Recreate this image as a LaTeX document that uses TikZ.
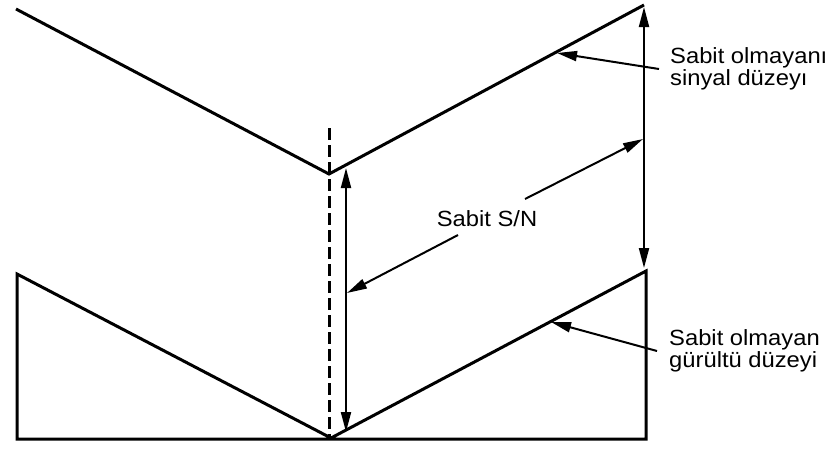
\documentclass[tikz,border=0pt]{standalone}
\usepackage{fontspec}
\setmainfont{Liberation Sans}[FakeStretch=1.08]
\usetikzlibrary{arrows.meta}
\tikzset{
  wave/.style={line width=3pt, line join=miter},
  dim/.style={line width=2pt, {Triangle[length=20pt,width=10pt]}-{Triangle[length=20pt,width=10pt]}},
  pointer/.style={line width=2pt, -{Triangle[length=20pt,width=10pt]}},
  lbl/.style={inner ysep=0pt, align=left, font=\fontsize{22}{19.5}\selectfont},
}
\begin{document}
\begin{tikzpicture}[x=1pt,y=-1pt]
\useasboundingbox (0,0) rectangle (834,448);
% signal level
\coordinate (T1) at (16,9);
\coordinate (V1) at (329,174);
\coordinate (T2) at (644,5);
% noise level
\coordinate (N0) at (17,274);
\coordinate (B0) at (17,439);
\coordinate (V2) at (331,438);
\coordinate (N2) at (646,271);
\coordinate (B2) at (646,439);
\draw[wave] (T1) -- (V1) -- (T2);
\draw[wave] (N0) -- (B0) -- (B2) -- (N2) -- (V2) -- cycle;
% dashed line
\coordinate (D1) at (329,128);
\coordinate (D2) at (329,438);
\draw[line width=3pt, dash pattern=on 12pt off 5pt] (D1) -- (D2);
% dimension arrows
\coordinate (L1) at (346,168);
\coordinate (L2) at (346,432);
\draw[dim] (L1) -- (L2);
\coordinate (R1) at (644,7);
\coordinate (R2) at (644,268);
\draw[dim] (R1) -- (R2);
% Sabit S/N
\node[lbl, inner xsep=0pt] (sn) at (487,219) {Sabit S/N};
\coordinate (snA) at (525,199);
\coordinate (snAt) at (643,139);
\coordinate (snB) at (458,235);
\coordinate (snBt) at (347,293);
\draw[pointer] (snA) -- (snAt);
\draw[pointer] (snB) -- (snBt);
% labels on the right
\node[lbl, anchor=west, inner xsep=11pt] (sig) at (659,69) {Sabit olmayanı\\sinyal düzeyı};
\coordinate (sigt) at (557,53);
\draw[pointer] (sig.west) -- (sigt);
\node[lbl, anchor=west, inner xsep=12pt] (noi) at (657,351) {Sabit olmayan\\gürültü düzeyi};
\coordinate (noit) at (551,322);
\draw[pointer] (noi.west) -- (noit);
\end{tikzpicture}
\end{document}
